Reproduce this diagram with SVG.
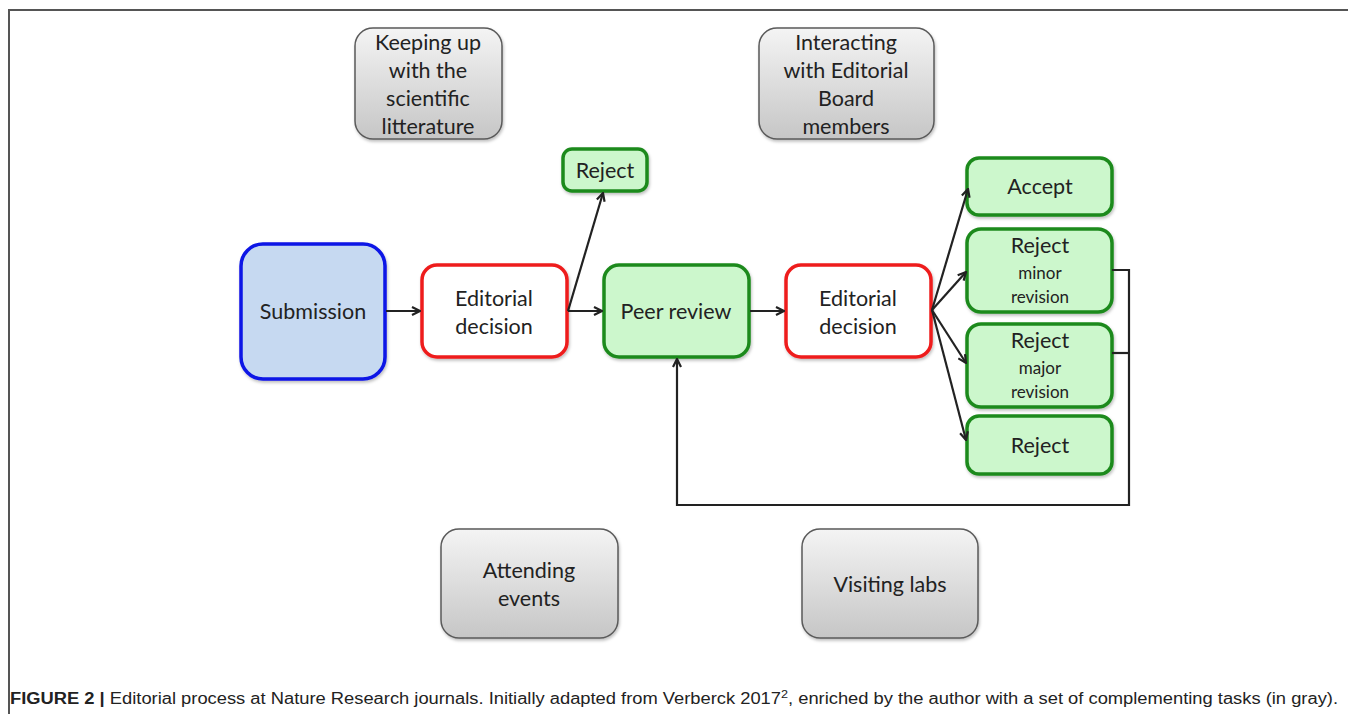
<svg xmlns="http://www.w3.org/2000/svg" width="1348" height="714" viewBox="0 0 1348 714">
<defs>
<linearGradient id="gray" x1="0" y1="0" x2="0" y2="1">
<stop offset="0" stop-color="#f4f4f4"/>
<stop offset="1" stop-color="#c6c6c6"/>
</linearGradient>
<marker id="arr" viewBox="0 0 10 10" refX="9" refY="5" markerWidth="10" markerHeight="10" markerUnits="userSpaceOnUse" orient="auto">
<path d="M1,1 L9,5 L1,9" fill="none" stroke="#222" stroke-width="2.2"/>
</marker>
<filter id="sh" x="-10%" y="-10%" width="130%" height="130%">
<feDropShadow dx="1" dy="2" stdDeviation="1.5" flood-color="#000" flood-opacity="0.25"/>
</filter>
</defs>
<style>
.t{font-family:Lato,"Open Sans","Liberation Sans",sans-serif;fill:#222;text-anchor:middle;font-size:21.5px}
.s{font-size:17px}
.g{fill:url(#gray);stroke:#5a5a5a;stroke-width:1.5;filter:url(#sh)}
.gr{fill:#ccf7cc;stroke:#1e8a1e;stroke-width:3.5;filter:url(#sh)}
.rd{fill:#fff;stroke:#ee1c1c;stroke-width:3.5;filter:url(#sh)}
.c{fill:none;stroke:#222;stroke-width:2.2}
.cap{font-family:"Liberation Sans",Arial,sans-serif;font-size:16px;fill:#222}
</style>
<rect width="1348" height="714" fill="#fff"/>
<path d="M9,714 V10 H1348" fill="none" stroke="#555" stroke-width="2"/>

<g id="keeping"><rect class="g" x="355" y="28" width="147" height="111" rx="18"/>
<text class="t" x="428" y="50">Keeping up</text><text class="t" x="428" y="78">with the</text><text class="t" x="428" y="106">scientific</text><text class="t" x="428" y="134">litterature</text></g>
<g id="interacting"><rect class="g" x="759" y="28" width="175" height="111" rx="18"/>
<text class="t" x="846" y="50">Interacting</text><text class="t" x="846" y="78">with Editorial</text><text class="t" x="846" y="106">Board</text><text class="t" x="846" y="134">members</text></g>
<g id="attending"><rect class="g" x="441" y="529" width="177" height="109" rx="18"/>
<text class="t" x="529" y="578">Attending</text><text class="t" x="529" y="606">events</text></g>
<g id="visiting"><rect class="g" x="802" y="529" width="176" height="109" rx="18"/>
<text class="t" x="890" y="592">Visiting labs</text></g>

<g id="submission"><rect x="241" y="244" width="144" height="135" rx="22" fill="#c6d9f1" stroke="#0a14e6" stroke-width="3.5" filter="url(#sh)"/>
<text class="t" x="313" y="319">Submission</text></g>
<g id="editorial1"><rect class="rd" x="422" y="265" width="145" height="92" rx="15"/>
<text class="t" x="494" y="306">Editorial</text><text class="t" x="494" y="334">decision</text></g>
<g id="reject0"><rect class="gr" x="563" y="149" width="84" height="42" rx="9"/>
<text class="t" x="605" y="178">Reject</text></g>
<g id="peer"><rect class="gr" x="604" y="265" width="145" height="92" rx="15"/>
<text class="t" x="676" y="319">Peer review</text></g>
<g id="editorial2"><rect class="rd" x="786" y="265" width="145" height="92" rx="15"/>
<text class="t" x="858" y="306">Editorial</text><text class="t" x="858" y="334">decision</text></g>
<g id="accept"><rect class="gr" x="967" y="158" width="145" height="57" rx="12"/>
<text class="t" x="1040" y="194">Accept</text></g>
<g id="minor"><rect class="gr" x="967" y="229" width="145" height="83" rx="14"/>
<text class="t" x="1040" y="253">Reject</text><text class="t s" x="1040" y="279">minor</text><text class="t s" x="1040" y="303">revision</text></g>
<g id="major"><rect class="gr" x="967" y="324" width="145" height="83" rx="14"/>
<text class="t" x="1040" y="348">Reject</text><text class="t s" x="1040" y="374">major</text><text class="t s" x="1040" y="398">revision</text></g>
<g id="reject"><rect class="gr" x="967" y="416" width="145" height="58" rx="12"/>
<text class="t" x="1040" y="453">Reject</text></g>

<g id="connectors">
<line class="c" x1="386" y1="311" x2="420" y2="311" marker-end="url(#arr)"/>
<line class="c" x1="568" y1="311" x2="602" y2="311" marker-end="url(#arr)"/>
<line class="c" x1="568" y1="311" x2="603" y2="193" marker-end="url(#arr)"/>
<line class="c" x1="750" y1="311" x2="784" y2="311" marker-end="url(#arr)"/>
<line class="c" x1="932" y1="310" x2="968" y2="189" marker-end="url(#arr)"/>
<line class="c" x1="932" y1="310" x2="966" y2="272" marker-end="url(#arr)"/>
<line class="c" x1="932" y1="310" x2="966" y2="363" marker-end="url(#arr)"/>
<line class="c" x1="932" y1="310" x2="966" y2="440" marker-end="url(#arr)"/>
<path class="c" d="M1112,270 H1129 V505 H677 V359" marker-end="url(#arr)"/>
<path class="c" d="M1112,353 H1129"/>
</g>

<text class="cap" x="10" y="704" textLength="1328" lengthAdjust="spacingAndGlyphs"><tspan font-weight="bold">FIGURE 2 |</tspan> Editorial process at Nature Research journals. Initially adapted from Verberck 2017<tspan font-size="11" dy="-6">2</tspan><tspan dy="6">, enriched by the author with a set of complementing tasks (in gray).</tspan></text>
</svg>
